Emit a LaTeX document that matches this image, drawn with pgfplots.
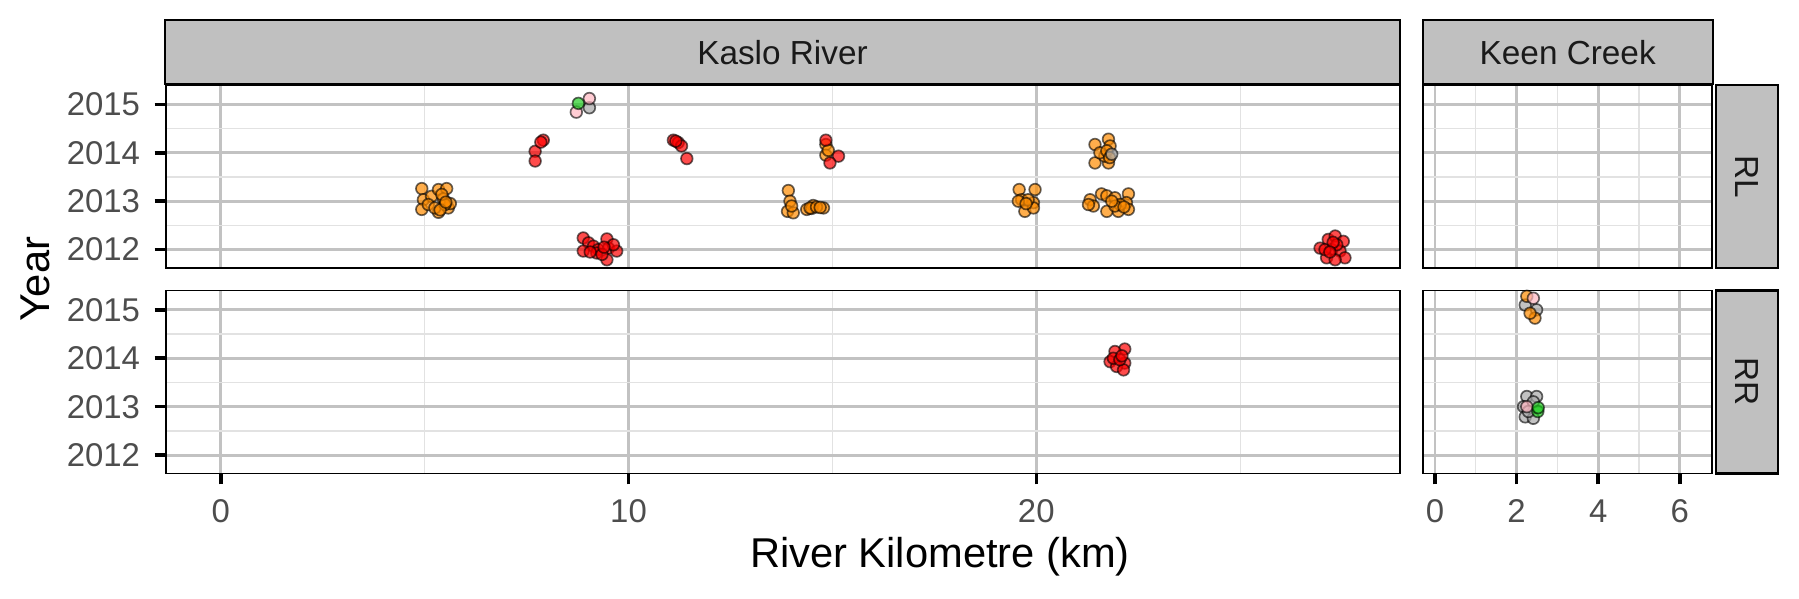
\documentclass[border=0pt]{standalone}
\usepackage{fontspec}
\setmainfont{Liberation Sans}
\usepackage{pgfplots}
\pgfplotsset{compat=1.18}
\definecolor{gridmaj}{HTML}{C2C2C2}
\definecolor{gridmin}{HTML}{E2E2E2}
\definecolor{stripbg}{HTML}{C0C0C0}
\definecolor{tickgrey}{HTML}{4D4D4D}
\definecolor{striptext}{HTML}{1A1A1A}
\definecolor{cOrange}{HTML}{FF8C00}
\definecolor{cRed}{HTML}{FF0000}
\definecolor{cPink}{HTML}{FFB6C1}
\definecolor{cGreen}{HTML}{22CC22}
\definecolor{cGrey}{HTML}{A8A8A8}
\pgfplotsset{
  panel/.style={
    scale only axis, height=43.92pt,
    ymin=2011.62, ymax=2015.40,
    ytick={2012,2013,2014,2015},
    yticklabels={2012,2013,2014,2015},
    minor ytick={2012.5,2013.5,2014.5},
    grid=both,
    major grid style={line width=0.7pt, draw=gridmaj},
    minor grid style={line width=0.3pt, draw=gridmin},
    axis line style={line width=0.45pt, draw=black},
    tick align=outside, tick pos=left,
    major tick length=2.64pt, minor tick length=0pt,
    tick style={line width=0.85pt, black},
    ticklabel style={font=\fontsize{7.9}{9}\selectfont, text=tickgrey},
    yticklabel style={xshift=0pt},
    xticklabel style={yshift=-0.1pt},
    /pgf/number format/assume math mode=true,
  },
  kaslo/.style={panel, width=296.23pt, xmin=-1.35, xmax=28.92,
    xtick={0,10,20}, xticklabels={0,10,20}, minor xtick={5,15,25}},
  keen/.style={panel, width=69.36pt, xmin=-0.287, xmax=6.796,
    xtick={0,2,4,6}, xticklabels={0,2,4,6}, minor xtick={1,3,5}, ymajorticks=false},
  pt/.style={only marks, mark=*, mark size=1.4pt,
    mark options={draw=black, draw opacity=0.6, fill opacity=0.7, line width=0.4pt, fill=#1}},
}
\begin{document}
\begin{tikzpicture}
\path[use as bounding box] (0,0) rectangle (431.76pt,143.76pt);
% ---------- Kaslo River, RL ----------
\begin{axis}[kaslo, at={(39.77pt,79.44pt)}, anchor=south west, xmajorticks=false]
\addplot[pt=cOrange] coordinates {
(4.93,2013.26)(4.97,2013.03)(4.93,2012.83)(5.17,2013.10)(5.09,2012.93)(5.34,2013.24)
(5.54,2013.26)(5.46,2013.05)(5.34,2012.77)(5.58,2012.86)(5.63,2012.95)(5.25,2012.86)
(5.50,2012.93)(5.42,2013.14)(5.38,2012.82)(5.52,2012.98)
(13.92,2013.22)(13.96,2013.00)(13.90,2012.79)(14.04,2012.76)(14.00,2012.90)
(14.37,2012.83)(14.53,2012.91)(14.78,2012.86)(14.49,2012.85)(14.45,2012.86)(14.61,2012.88)(14.70,2012.87)
(14.84,2014.17)(14.84,2013.95)(14.90,2014.05)
(19.58,2013.24)(19.97,2013.24)(19.64,2013.03)(19.93,2012.97)(19.72,2012.79)(19.93,2012.86)
(19.80,2013.03)(19.56,2013.00)(19.75,2012.95)
(21.44,2014.17)(21.77,2014.28)(21.81,2014.14)(21.44,2013.79)(21.77,2013.79)(21.68,2013.93)
(21.56,2014.00)(21.73,2014.04)(21.80,2013.90)
(21.32,2013.03)(21.40,2012.90)(21.60,2013.15)(21.73,2013.11)(21.93,2013.07)(22.26,2013.15)
(22.21,2012.97)(22.26,2012.83)(22.01,2012.79)(21.73,2012.79)(22.06,2012.93)(21.93,2012.90)
(21.28,2012.93)(22.15,2012.88)(21.85,2013.00)
};
\addplot[pt=cGrey] coordinates {(21.85,2013.97)(9.04,2014.93)};
\addplot[pt=cRed] coordinates {
(7.91,2014.26)(7.71,2014.03)(7.71,2013.83)(7.85,2014.22)
(11.10,2014.26)(11.22,2014.21)(11.30,2014.14)(11.43,2013.88)(11.16,2014.24)
(14.84,2014.26)(15.15,2013.93)(14.94,2013.79)
(8.89,2012.24)(9.02,2012.14)(9.14,2012.07)(9.26,2012.00)(9.47,2012.22)(9.51,2012.03)
(9.71,2011.97)(9.47,2011.79)(8.89,2011.97)(9.22,2011.93)(9.63,2012.10)(9.06,2011.95)
(9.35,2011.90)(9.40,2012.05)
(26.96,2012.03)(27.16,2012.21)(27.33,2012.28)(27.53,2012.17)(27.25,2012.00)(27.45,2011.97)
(27.57,2011.83)(27.12,2011.83)(27.33,2011.79)(27.08,2012.00)(27.37,2012.10)(27.28,2012.15)(27.20,2011.95)
};
\addplot[pt=cPink] coordinates {(9.04,2015.12)(8.72,2014.84)};
\addplot[pt=cGreen] coordinates {(8.77,2015.02)};
\end{axis}
% ---------- Kaslo River, RR ----------
\begin{axis}[kaslo, at={(39.77pt,30.12pt)}, anchor=south west]
\addplot[pt=cRed] coordinates {
(22.17,2014.19)(21.93,2014.14)(21.81,2013.93)(22.17,2013.90)(21.97,2013.83)(22.14,2013.76)
(21.89,2014.00)(22.05,2013.97)(22.10,2014.05)
};
\end{axis}
% ---------- Keen Creek, RL ----------
\begin{axis}[keen, at={(341.59pt,79.44pt)}, anchor=south west, xmajorticks=false]
\end{axis}
% ---------- Keen Creek, RR ----------
\begin{axis}[keen, at={(341.59pt,30.12pt)}, anchor=south west]
\addplot[pt=cGrey] coordinates {
(2.49,2015.00)(2.21,2015.10)
(2.25,2013.21)(2.49,2013.21)(2.17,2013.00)(2.41,2013.10)(2.21,2012.79)(2.41,2012.76)(2.29,2012.90)
};
\addplot[pt=cOrange] coordinates {(2.25,2015.28)(2.45,2014.83)(2.33,2014.93)};
\addplot[pt=cPink] coordinates {(2.41,2015.24)(2.25,2013.00)};
\addplot[pt=cGreen] coordinates {(2.52,2012.90)(2.53,2012.98)};
\end{axis}
% ---------- strips ----------
\draw[fill=stripbg, line width=0.55pt] (39.6pt,123.6pt) rectangle (336pt,138.96pt);
\draw[fill=stripbg, line width=0.55pt] (341.45pt,123.6pt) rectangle (411.05pt,138.96pt);
\draw[fill=stripbg, line width=0.55pt] (411.84pt,79.44pt) rectangle (426.65pt,123.36pt);
\draw[fill=stripbg, line width=0.55pt] (411.84pt,30.12pt) rectangle (426.65pt,74.04pt);
\node[anchor=base, text=striptext, font=\fontsize{8}{9}\selectfont, inner sep=0pt] at (187.8pt,128.3pt) {Kaslo River};
\node[anchor=base, text=striptext, font=\fontsize{8}{9}\selectfont, inner sep=0pt] at (376.25pt,128.3pt) {Keen Creek};
\node[rotate=-90, text=striptext, font=\fontsize{8}{9}\selectfont, inner sep=0pt] at (419.2pt,101.4pt) {RL};
\node[rotate=-90, text=striptext, font=\fontsize{8}{9}\selectfont, inner sep=0pt] at (419.2pt,52.08pt) {RR};
% ---------- axis titles ----------
\node[anchor=base, font=\fontsize{10}{12}\selectfont, inner sep=0pt] at (225.6pt,7.44pt) {River Kilometre (km)};
\node[anchor=base, rotate=90, font=\fontsize{10}{12}\selectfont, inner sep=0pt] at (12pt,76.8pt) {Year};
\end{tikzpicture}
\end{document}
